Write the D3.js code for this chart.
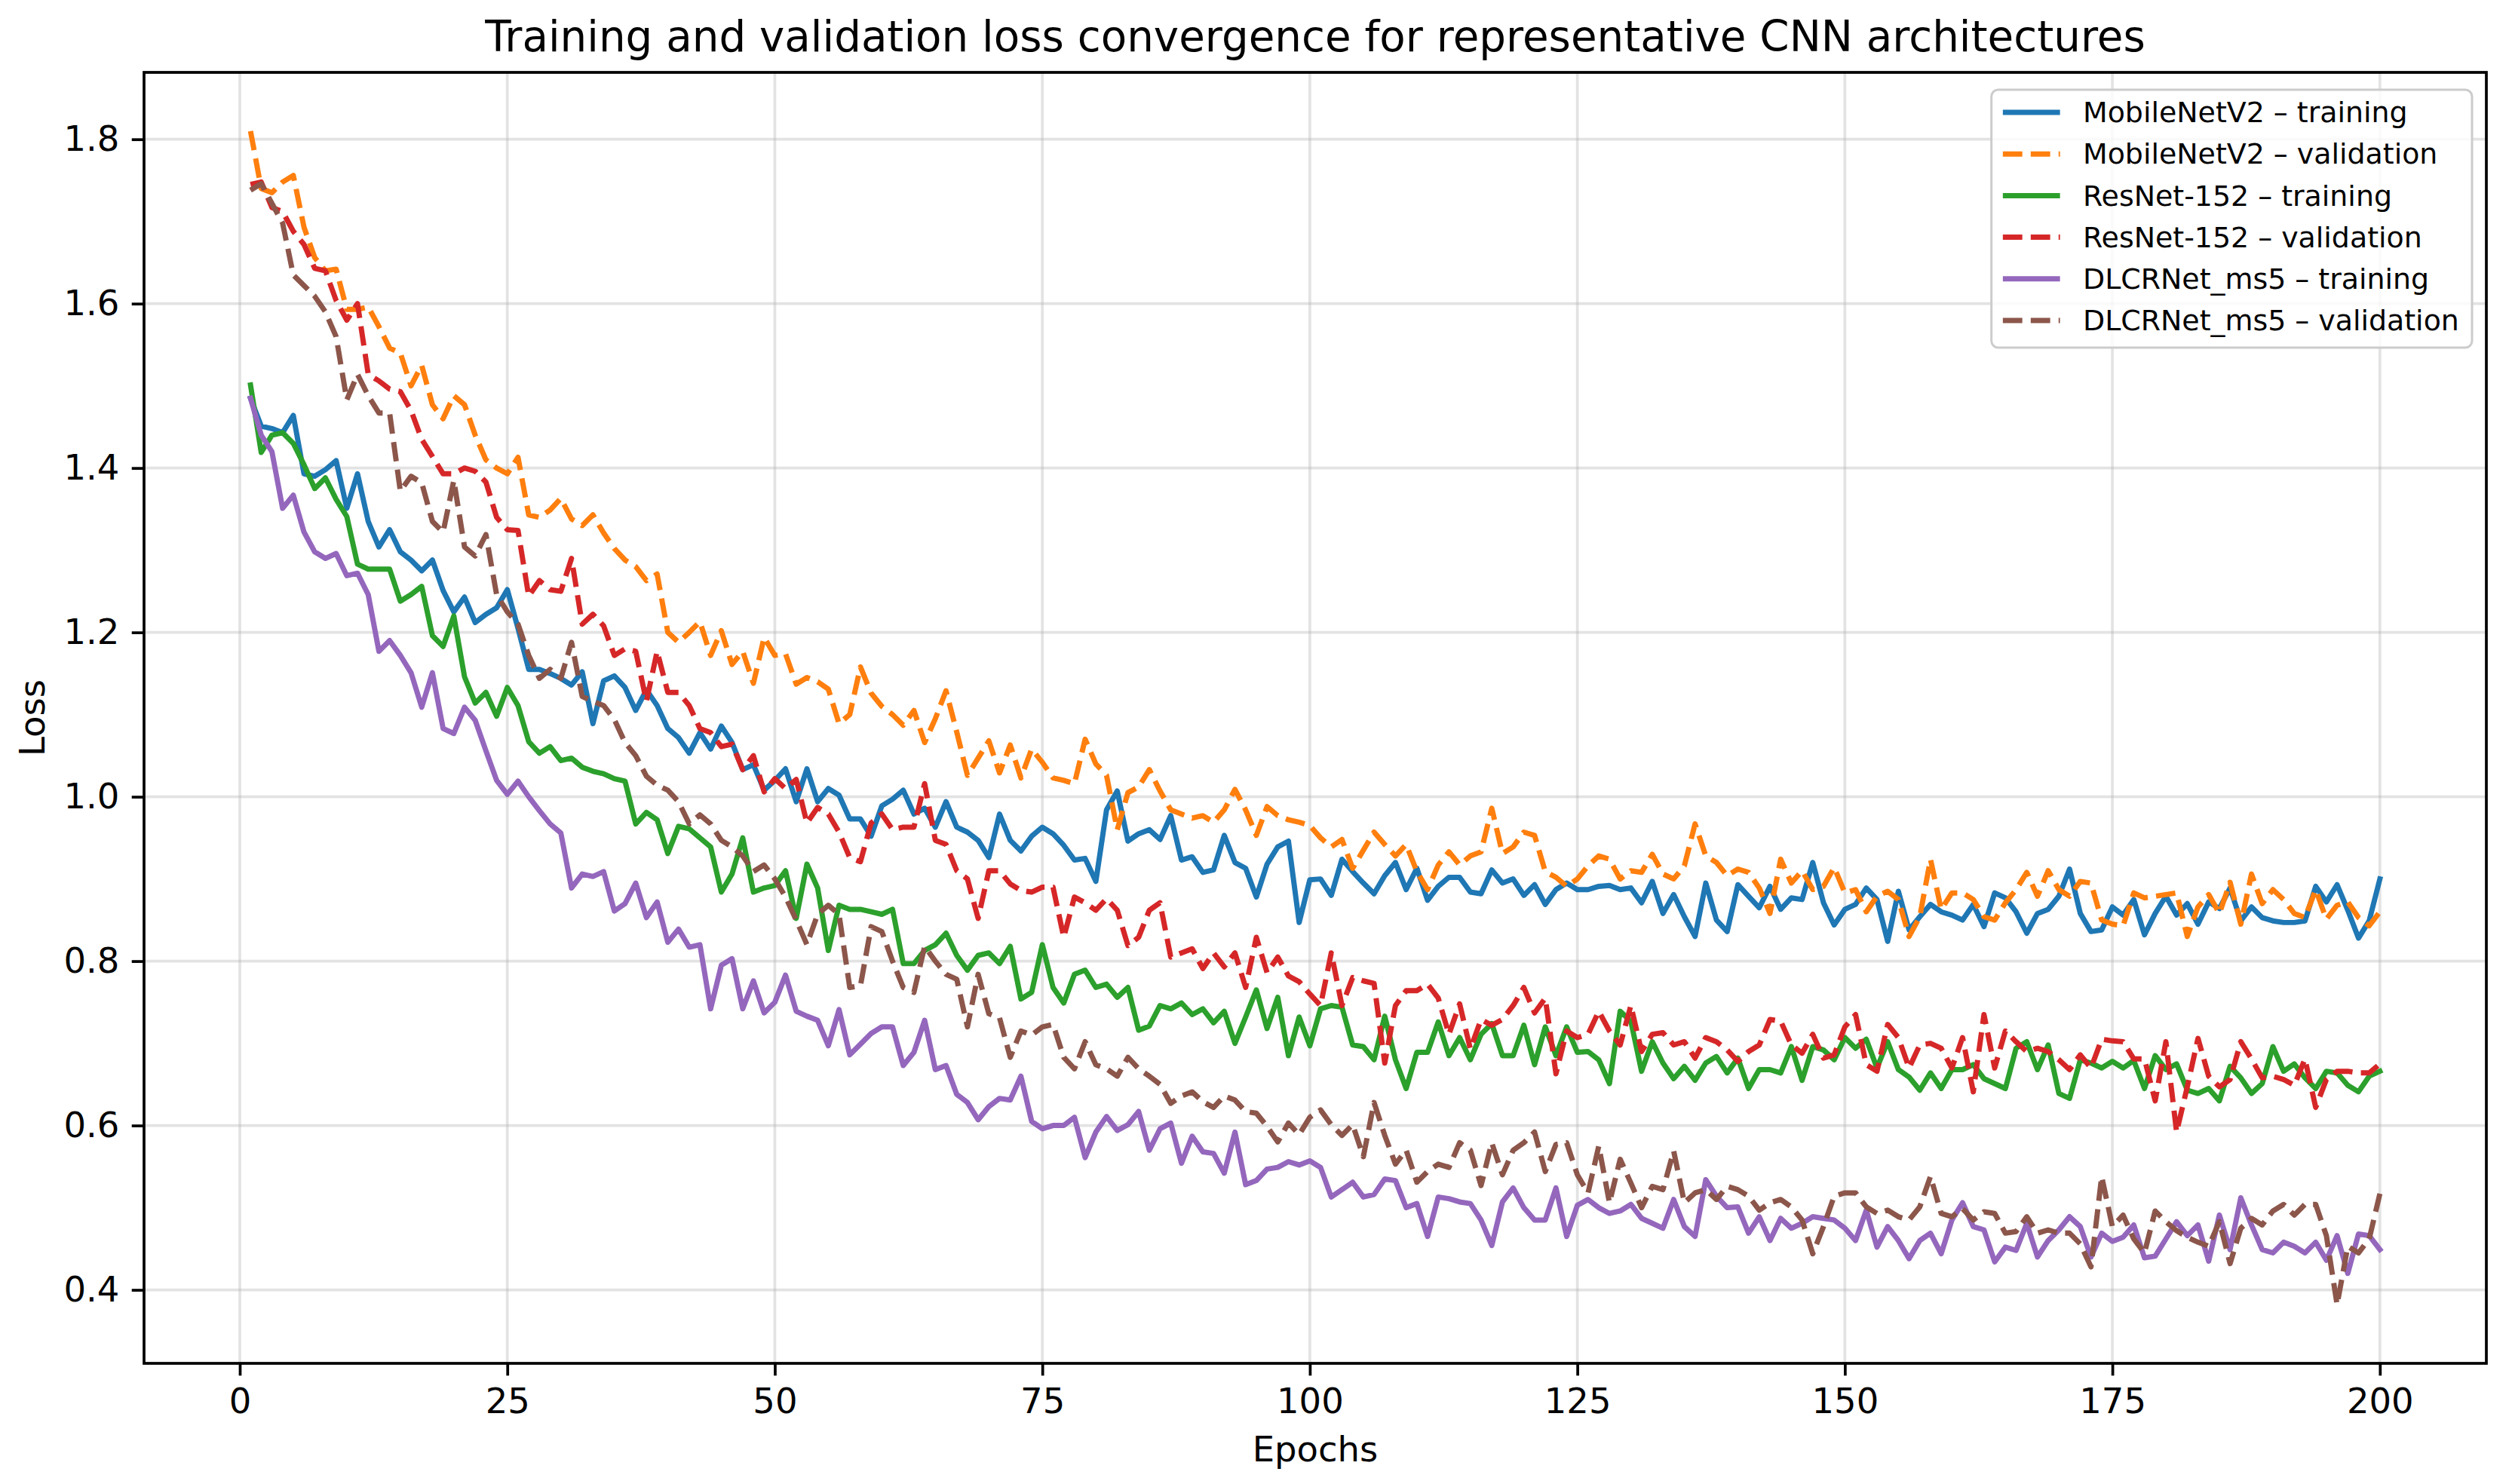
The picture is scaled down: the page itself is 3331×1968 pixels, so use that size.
<!DOCTYPE html>
<html><head><meta charset="utf-8">
<script src="https://cdn.jsdelivr.net/npm/d3@7"></script>
<style>body{margin:0;background:#fff}text{font-family:"DejaVu Sans",sans-serif}</style>
</head><body><svg id="c" width="3331" height="1968"></svg>
<script>
// ---- data (loss per epoch, epochs 1..200) ----
const mobilenetTrain = [
1.485,1.451,1.448,1.443,1.464,1.393,1.390,1.398,1.409,1.351,1.393,1.335,1.304,1.325,1.298,1.288,1.275,1.288,1.251,1.225,1.243,1.212,1.222,1.230,1.252,
1.205,1.155,1.155,1.150,1.144,1.136,1.152,1.089,1.141,1.147,1.133,1.105,1.130,1.111,1.083,1.072,1.053,1.078,1.058,1.086,1.066,1.033,1.039,1.008,1.020,
1.034,0.994,1.034,0.994,1.010,1.002,0.973,0.973,0.952,0.989,0.997,1.008,0.979,0.986,0.963,0.994,0.963,0.957,0.947,0.926,0.979,0.947,0.934,0.952,0.963,
0.955,0.941,0.923,0.925,0.897,0.984,1.007,0.946,0.955,0.960,0.948,0.977,0.923,0.927,0.908,0.911,0.953,0.920,0.913,0.878,0.918,0.939,0.946,0.847,0.899,
0.900,0.880,0.924,0.909,0.895,0.882,0.904,0.920,0.887,0.913,0.874,0.891,0.902,0.902,0.884,0.882,0.911,0.895,0.900,0.880,0.893,0.869,0.887,0.895,0.887,
0.887,0.891,0.892,0.887,0.889,0.871,0.897,0.858,0.881,0.854,0.830,0.895,0.850,0.836,0.893,0.879,0.865,0.891,0.863,0.877,0.875,0.920,0.871,0.844,0.863,
0.869,0.889,0.875,0.824,0.885,0.838,0.854,0.869,0.860,0.856,0.850,0.869,0.842,0.883,0.877,0.860,0.834,0.858,0.863,0.879,0.912,0.858,0.836,0.838,0.866,
0.856,0.875,0.832,0.858,0.879,0.856,0.870,0.845,0.872,0.864,0.889,0.849,0.866,0.853,0.849,0.847,0.847,0.849,0.891,0.872,0.893,0.862,0.828,0.849,0.900];

const mobilenetVal = [
1.810,1.740,1.735,1.748,1.756,1.693,1.656,1.640,1.642,1.593,1.593,1.596,1.572,1.546,1.540,1.500,1.525,1.477,1.460,1.488,1.477,1.440,1.410,1.400,1.393,
1.413,1.343,1.340,1.349,1.363,1.338,1.330,1.343,1.321,1.302,1.288,1.280,1.263,1.271,1.200,1.188,1.200,1.213,1.172,1.202,1.161,1.177,1.138,1.194,1.172,
1.174,1.137,1.145,1.140,1.131,1.089,1.100,1.158,1.126,1.110,1.100,1.087,1.105,1.066,1.095,1.129,1.079,1.026,1.047,1.068,1.029,1.063,1.023,1.058,1.042,
1.023,1.020,1.016,1.070,1.040,1.026,0.960,1.005,1.012,1.033,1.007,0.984,0.979,0.974,0.977,0.969,0.984,1.009,0.984,0.953,0.988,0.977,0.972,0.969,0.965,
0.950,0.939,0.948,0.913,0.935,0.957,0.942,0.928,0.942,0.909,0.887,0.917,0.933,0.917,0.928,0.933,0.986,0.931,0.939,0.957,0.953,0.909,0.902,0.891,0.900,
0.916,0.928,0.924,0.900,0.910,0.908,0.930,0.906,0.900,0.916,0.967,0.928,0.920,0.904,0.912,0.908,0.889,0.858,0.924,0.895,0.910,0.887,0.891,0.914,0.883,
0.887,0.860,0.879,0.885,0.875,0.830,0.854,0.924,0.863,0.883,0.883,0.875,0.854,0.850,0.871,0.887,0.908,0.879,0.910,0.887,0.879,0.897,0.895,0.850,0.845,
0.843,0.883,0.877,0.879,0.881,0.883,0.830,0.866,0.881,0.858,0.896,0.845,0.906,0.870,0.887,0.875,0.858,0.853,0.887,0.851,0.868,0.872,0.853,0.843,0.860];

const resnetTrain = [
1.501,1.419,1.440,1.443,1.430,1.404,1.375,1.388,1.362,1.341,1.283,1.277,1.277,1.277,1.238,1.246,1.256,1.196,1.183,1.220,1.146,1.114,1.127,1.098,1.133,
1.111,1.067,1.053,1.061,1.044,1.047,1.036,1.031,1.028,1.022,1.019,0.967,0.981,0.972,0.931,0.964,0.961,0.950,0.939,0.884,0.906,0.950,0.884,0.889,0.892,
0.910,0.852,0.918,0.889,0.813,0.868,0.863,0.863,0.860,0.857,0.863,0.797,0.797,0.813,0.820,0.834,0.807,0.789,0.807,0.810,0.797,0.818,0.754,0.762,0.820,
0.768,0.749,0.784,0.789,0.768,0.772,0.756,0.768,0.716,0.721,0.746,0.742,0.749,0.735,0.742,0.725,0.739,0.700,0.732,0.765,0.718,0.756,0.685,0.732,0.697,
0.742,0.746,0.744,0.698,0.696,0.680,0.733,0.680,0.645,0.689,0.689,0.726,0.685,0.707,0.680,0.711,0.724,0.685,0.685,0.722,0.674,0.720,0.685,0.720,0.689,
0.690,0.680,0.651,0.739,0.727,0.666,0.702,0.676,0.657,0.672,0.655,0.676,0.684,0.664,0.682,0.645,0.668,0.668,0.664,0.696,0.655,0.696,0.692,0.680,0.707,
0.694,0.705,0.670,0.702,0.668,0.659,0.643,0.664,0.645,0.668,0.668,0.674,0.657,0.651,0.645,0.694,0.702,0.668,0.698,0.639,0.633,0.680,0.676,0.670,0.678,
0.670,0.679,0.645,0.685,0.668,0.675,0.643,0.639,0.645,0.630,0.672,0.658,0.639,0.651,0.696,0.666,0.675,0.658,0.645,0.666,0.664,0.649,0.641,0.660,0.666];

const resnetVal = [
1.745,1.748,1.717,1.712,1.688,1.672,1.643,1.640,1.604,1.580,1.600,1.514,1.506,1.496,1.493,1.470,1.435,1.414,1.393,1.393,1.400,1.396,1.383,1.340,1.325,
1.324,1.244,1.263,1.252,1.250,1.290,1.210,1.222,1.208,1.172,1.180,1.177,1.116,1.177,1.127,1.127,1.111,1.083,1.078,1.061,1.064,1.033,1.050,1.006,1.022,
1.010,1.021,0.968,0.987,0.979,0.957,0.926,0.921,0.968,0.979,0.960,0.963,0.963,1.016,0.947,0.942,0.910,0.900,0.852,0.910,0.910,0.894,0.886,0.884,0.890,
0.890,0.829,0.878,0.871,0.862,0.876,0.862,0.819,0.829,0.862,0.871,0.805,0.810,0.815,0.791,0.810,0.793,0.810,0.768,0.829,0.786,0.805,0.782,0.775,0.760,
0.746,0.810,0.746,0.780,0.776,0.773,0.676,0.746,0.764,0.764,0.772,0.755,0.711,0.748,0.693,0.729,0.722,0.729,0.746,0.768,0.737,0.755,0.663,0.715,0.707,
0.711,0.739,0.715,0.698,0.746,0.690,0.711,0.713,0.698,0.702,0.682,0.707,0.702,0.692,0.678,0.690,0.698,0.729,0.727,0.698,0.688,0.711,0.682,0.686,0.720,
0.735,0.674,0.666,0.723,0.707,0.670,0.698,0.700,0.694,0.670,0.707,0.641,0.735,0.670,0.715,0.702,0.690,0.694,0.690,0.680,0.668,0.686,0.670,0.705,0.703,
0.702,0.681,0.681,0.630,0.702,0.592,0.647,0.706,0.660,0.647,0.656,0.702,0.681,0.658,0.660,0.656,0.649,0.681,0.622,0.656,0.666,0.666,0.664,0.664,0.675];

const dlcrnetTrain = [
1.485,1.440,1.420,1.351,1.367,1.322,1.298,1.290,1.296,1.269,1.272,1.246,1.177,1.190,1.172,1.151,1.109,1.151,1.083,1.077,1.109,1.093,1.056,1.020,1.003,
1.019,1.000,0.983,0.967,0.956,0.889,0.906,0.903,0.909,0.861,0.870,0.895,0.853,0.872,0.823,0.839,0.817,0.820,0.742,0.795,0.803,0.742,0.776,0.737,0.750,
0.783,0.739,0.733,0.728,0.697,0.741,0.686,0.699,0.712,0.720,0.720,0.673,0.689,0.728,0.668,0.673,0.638,0.628,0.607,0.623,0.633,0.631,0.660,0.605,0.596,
0.600,0.600,0.610,0.561,0.592,0.611,0.594,0.601,0.617,0.570,0.596,0.603,0.554,0.587,0.568,0.566,0.542,0.592,0.528,0.533,0.547,0.549,0.556,0.552,0.557,
0.549,0.513,0.522,0.531,0.513,0.516,0.535,0.533,0.500,0.505,0.465,0.513,0.511,0.507,0.505,0.485,0.454,0.507,0.524,0.500,0.485,0.485,0.524,0.465,0.503,
0.510,0.500,0.493,0.496,0.504,0.487,0.481,0.475,0.510,0.477,0.465,0.534,0.514,0.500,0.501,0.469,0.489,0.460,0.487,0.475,0.481,0.489,0.487,0.485,0.475,
0.460,0.497,0.452,0.477,0.460,0.438,0.460,0.469,0.444,0.485,0.506,0.477,0.473,0.434,0.452,0.448,0.481,0.440,0.460,0.473,0.489,0.477,0.440,0.469,0.459,
0.464,0.479,0.439,0.441,0.462,0.483,0.466,0.479,0.435,0.491,0.449,0.512,0.479,0.449,0.445,0.458,0.453,0.445,0.458,0.436,0.466,0.420,0.468,0.466,0.449];

const dlcrnetVal = [
1.738,1.746,1.722,1.698,1.635,1.622,1.609,1.590,1.560,1.483,1.514,1.488,1.467,1.467,1.372,1.390,1.382,1.335,1.322,1.385,1.304,1.293,1.319,1.246,1.225,
1.210,1.172,1.144,1.155,1.144,1.188,1.122,1.116,1.111,1.094,1.066,1.050,1.025,1.014,1.008,0.994,0.967,0.978,0.967,0.947,0.939,0.928,0.909,0.917,0.900,
0.878,0.850,0.820,0.857,0.868,0.857,0.768,0.770,0.842,0.836,0.800,0.768,0.762,0.818,0.800,0.784,0.778,0.720,0.784,0.736,0.731,0.683,0.715,0.710,0.720,
0.723,0.683,0.669,0.702,0.674,0.669,0.660,0.683,0.669,0.660,0.650,0.627,0.636,0.641,0.629,0.622,0.636,0.631,0.617,0.615,0.599,0.580,0.603,0.589,0.610,
0.619,0.601,0.588,0.601,0.562,0.628,0.588,0.553,0.570,0.531,0.544,0.553,0.549,0.579,0.570,0.527,0.579,0.540,0.570,0.579,0.592,0.544,0.577,0.579,0.540,
0.518,0.575,0.506,0.559,0.530,0.500,0.526,0.522,0.569,0.506,0.518,0.522,0.510,0.526,0.522,0.514,0.497,0.506,0.510,0.501,0.485,0.444,0.477,0.514,0.518,
0.518,0.501,0.493,0.497,0.489,0.485,0.501,0.538,0.493,0.489,0.499,0.485,0.495,0.493,0.469,0.471,0.489,0.469,0.473,0.469,0.469,0.456,0.428,0.538,0.477,
0.491,0.462,0.445,0.496,0.483,0.472,0.464,0.458,0.453,0.483,0.432,0.475,0.487,0.479,0.496,0.504,0.491,0.504,0.504,0.466,0.382,0.453,0.445,0.462,0.517];

const seriesNames = [
  "MobileNetV2 \u2013 training", "MobileNetV2 \u2013 validation",
  "ResNet-152 \u2013 training", "ResNet-152 \u2013 validation",
  "DLCRNet_ms5 \u2013 training", "DLCRNet_ms5 \u2013 validation"];
const seriesValues = [mobilenetTrain, mobilenetVal, resnetTrain, resnetVal, dlcrnetTrain, dlcrnetVal];
const xTickValues = [0, 25, 50, 75, 100, 125, 150, 175, 200];
const yTickValues = [0.4, 0.6, 0.8, 1.0, 1.2, 1.4, 1.6, 1.8];
const titleText = "Training and validation loss convergence for representative CNN architectures";

// ---- styles ----
const colors = ["#1f77b4", "#ff7f0e", "#2ca02c", "#d62728", "#9467bd", "#8c564b"];
const dashed = [false, true, false, true, false, true];
const PT = 4.65;                 // px per point
const FS = 10 * PT;              // tick/label font
const W = 3331, H = 1968;
const M = {l: 191, r: 3297, t: 96, b: 1808};

const svg = d3.select("#c");
svg.append("rect").attr("width", W).attr("height", H).attr("fill", "#fff");

const n = mobilenetTrain.length;
const xMin = 1, xMax = n, xPad = (xMax - xMin) * 0.05;
const all = seriesValues.flat();
const lo = d3.min(all), hi = d3.max(all), yPad = (hi - lo) * 0.05;
const x = d3.scaleLinear().domain([xMin - xPad, xMax + xPad]).range([M.l, M.r]);
const y = d3.scaleLinear().domain([lo - yPad, hi + yPad]).range([M.b, M.t]);

// grid
const grid = svg.append("g").attr("stroke", "#b0b0b0").attr("stroke-opacity", 0.35).attr("stroke-width", 0.8 * PT);
grid.selectAll(".gx").data(xTickValues).join("line")
  .attr("x1", d => x(d)).attr("x2", d => x(d)).attr("y1", M.t).attr("y2", M.b);
grid.selectAll(".gy").data(yTickValues).join("line")
  .attr("y1", d => y(d)).attr("y2", d => y(d)).attr("x1", M.l).attr("x2", M.r);

// lines
svg.append("clipPath").attr("id", "clp").append("rect")
  .attr("x", M.l).attr("y", M.t).attr("width", M.r - M.l).attr("height", M.b - M.t);
const line = d3.line().x((d, i) => x(i + 1)).y(d => y(d));
const dashArr = `${3.7 * 1.5 * PT},${1.6 * 1.5 * PT}`;
seriesValues.forEach((vals, k) => {
  svg.append("path").datum(vals)
    .attr("d", line)
    .attr("fill", "none")
    .attr("stroke", colors[k])
    .attr("stroke-width", 1.5 * PT)
    .attr("stroke-linejoin", "round")
    .attr("stroke-linecap", dashed[k] ? "butt" : "square")
    .attr("stroke-dasharray", dashed[k] ? dashArr : null)
    .attr("clip-path", "url(#clp)");
});

// axes
const ax = svg.append("g").attr("transform", `translate(0,${M.b})`)
  .call(d3.axisBottom(x).tickValues(xTickValues).tickFormat(d3.format("d")).tickSize(3.5 * PT).tickPadding(3.5 * PT).tickSizeOuter(0));
const ay = svg.append("g").attr("transform", `translate(${M.l},0)`)
  .call(d3.axisLeft(y).tickValues(yTickValues).tickFormat(d3.format(".1f")).tickSize(3.5 * PT).tickPadding(3.5 * PT).tickSizeOuter(0));
[ax, ay].forEach(g => {
  g.select(".domain").remove();
  g.selectAll(".tick line").attr("stroke", "#000").attr("stroke-width", 0.8 * PT);
  g.selectAll(".tick text").attr("fill", "#000").style("font-size", FS + "px").style("font-family", "DejaVu Sans");
});

// frame
svg.append("rect").attr("x", M.l).attr("y", M.t).attr("width", M.r - M.l).attr("height", M.b - M.t)
  .attr("fill", "none").attr("stroke", "#000").attr("stroke-width", 0.8 * PT);

// title & labels
svg.append("text").attr("x", (M.l + M.r) / 2).attr("y", 68).attr("text-anchor", "middle")
  .style("font-size", "56.3px").text(titleText);
svg.append("text").attr("x", (M.l + M.r) / 2).attr("y", 1938).attr("text-anchor", "middle")
  .style("font-size", FS + "px").text("Epochs");
svg.append("text").attr("transform", `translate(59,${(M.t + M.b) / 2}) rotate(-90)`).attr("text-anchor", "middle")
  .style("font-size", FS + "px").text("Loss");

// legend
const LFS = 37.9;
const lg = svg.append("g");
const box = lg.append("rect");
const rowStep = 55.2, firstRow = 149;
const handleLen = 2.0 * LFS, bpad = 0.4 * LFS, htpad = 0.8 * LFS;
const texts = [];
seriesNames.forEach((name, k) => {
  const t = lg.append("text").attr("y", firstRow + k * rowStep).attr("dy", "0.35em")
    .style("font-size", LFS + "px").text(name);
  texts.push(t);
});
const maxW = d3.max(texts, t => t.node().getComputedTextLength());
const boxW = bpad + handleLen + htpad + maxW + bpad + 2;
const boxRight = M.r - 19;
const boxLeft = boxRight - boxW;
const boxTop = 119, boxBottom = 461;
box.attr("x", boxLeft).attr("y", boxTop).attr("width", boxW).attr("height", boxBottom - boxTop)
  .attr("rx", 9).attr("ry", 9).attr("fill", "#fff").attr("fill-opacity", 0.8)
  .attr("stroke", "#cccccc").attr("stroke-width", 3);
const hx0 = boxLeft + bpad;
texts.forEach((t, k) => {
  t.attr("x", hx0 + handleLen + htpad);
  lg.append("line").attr("x1", hx0).attr("x2", hx0 + handleLen)
    .attr("y1", firstRow + k * rowStep).attr("y2", firstRow + k * rowStep)
    .attr("stroke", colors[k]).attr("stroke-width", 1.5 * PT)
    .attr("stroke-dasharray", dashed[k] ? dashArr : null);
});
</script></body></html>
